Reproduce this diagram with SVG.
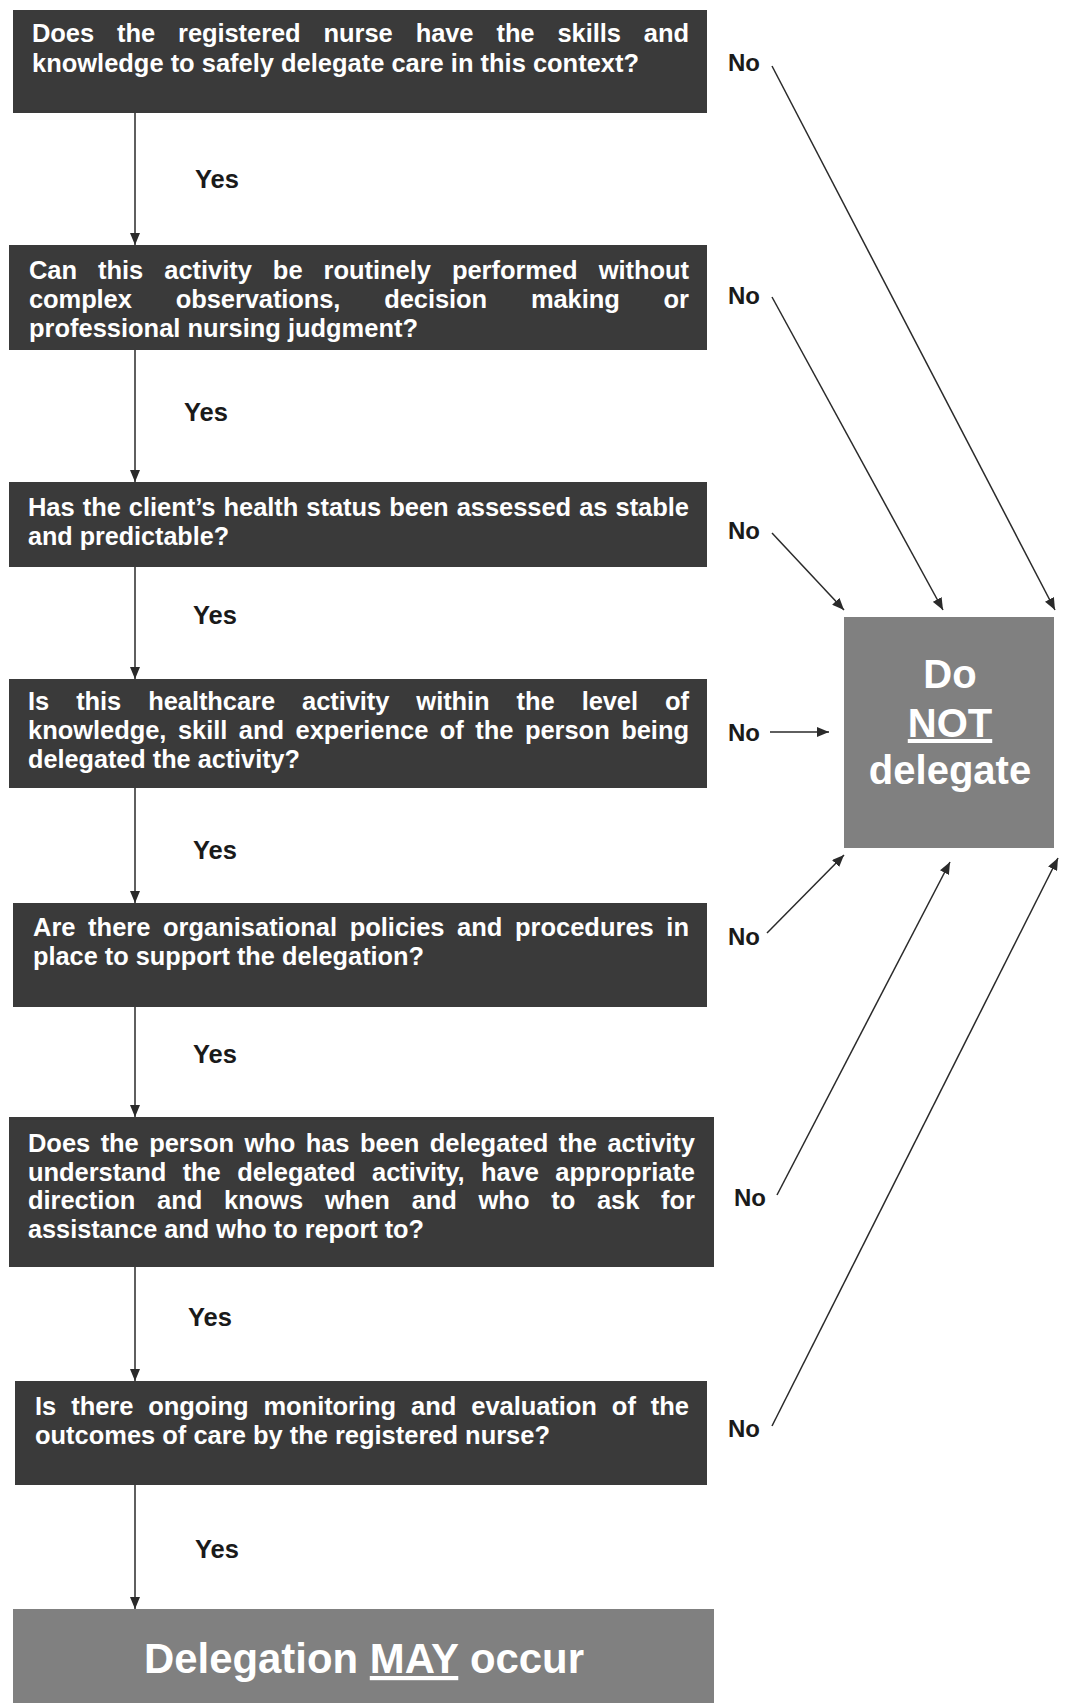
<svg xmlns="http://www.w3.org/2000/svg" width="1069" height="1703" viewBox="0 0 1069 1703">
<defs>
<style>
.q{fill:#3a3a3a}
.g{fill:#808080}
.t{font-family:"Liberation Sans Narrow","Arial Narrow","Liberation Sans",sans-serif;font-weight:bold;font-size:25.5px;fill:#ffffff}
.y{font-family:"Liberation Sans Narrow","Arial Narrow","Liberation Sans",sans-serif;font-weight:bold;font-size:25.5px;fill:#1a1a1a}
.n{font-family:"Liberation Sans",Arial,sans-serif;font-weight:bold;font-size:24px;fill:#1a1a1a}
.c{stroke:#2a2a2a;stroke-width:1.5;fill:none;marker-end:url(#ah)}
</style>
<marker id="ah" viewBox="0 0 12 10" refX="12" refY="5" markerWidth="12" markerHeight="10" markerUnits="userSpaceOnUse" orient="auto">
<path d="M0,0 L12,5 L0,10 z" fill="#2a2a2a"/>
</marker>
</defs>
<rect width="1069" height="1703" fill="#ffffff"/>
<g id="q1"><rect class="q" x="13" y="10" width="694" height="103"/>
<text class="t" x="32" y="42" word-spacing="16" textLength="657" lengthAdjust="spacing">Does the registered nurse have the skills and</text>
<text class="t" x="32" y="72" textLength="607" lengthAdjust="spacingAndGlyphs">knowledge to safely delegate care in this context?</text></g>
<g id="q2"><rect class="q" x="9" y="245" width="698" height="105"/>
<text class="t" x="29" y="279" word-spacing="14" textLength="660" lengthAdjust="spacing">Can this activity be routinely performed without</text>
<text class="t" x="29" y="308" word-spacing="37" textLength="660" lengthAdjust="spacing">complex observations, decision making or</text>
<text class="t" x="29" y="337" textLength="389" lengthAdjust="spacingAndGlyphs">professional nursing judgment?</text></g>
<g id="q3"><rect class="q" x="9" y="482" width="698" height="85"/>
<text class="t" x="28" y="516" word-spacing="1" textLength="661" lengthAdjust="spacing">Has the client’s health status been assessed as stable</text>
<text class="t" x="28" y="545" textLength="201" lengthAdjust="spacingAndGlyphs">and predictable?</text></g>
<g id="q4"><rect class="q" x="9" y="679" width="698" height="109"/>
<text class="t" x="28" y="710" word-spacing="20" textLength="661" lengthAdjust="spacing">Is this healthcare activity within the level of</text>
<text class="t" x="28" y="739" word-spacing="4.5" textLength="661" lengthAdjust="spacing">knowledge, skill and experience of the person being</text>
<text class="t" x="28" y="768" textLength="272" lengthAdjust="spacingAndGlyphs">delegated the activity?</text></g>
<g id="q5"><rect class="q" x="13" y="903" width="694" height="104"/>
<text class="t" x="33" y="936" word-spacing="5.6" textLength="656" lengthAdjust="spacing">Are there organisational policies and procedures in</text>
<text class="t" x="33" y="965" textLength="391" lengthAdjust="spacingAndGlyphs">place to support the delegation?</text></g>
<g id="q6"><rect class="q" x="9" y="1117" width="705" height="150"/>
<text class="t" x="28" y="1152" word-spacing="3.4" textLength="667" lengthAdjust="spacing">Does the person who has been delegated the activity</text>
<text class="t" x="28" y="1181" word-spacing="9.4" textLength="667" lengthAdjust="spacing">understand the delegated activity, have appropriate</text>
<text class="t" x="28" y="1209" word-spacing="14.7" textLength="667" lengthAdjust="spacing">direction and knows when and who to ask for</text>
<text class="t" x="28" y="1238" textLength="396" lengthAdjust="spacingAndGlyphs">assistance and who to report to?</text></g>
<g id="q7"><rect class="q" x="15" y="1381" width="692" height="104"/>
<text class="t" x="35" y="1415" word-spacing="8" textLength="654" lengthAdjust="spacing">Is there ongoing monitoring and evaluation of the</text>
<text class="t" x="35" y="1444" textLength="515" lengthAdjust="spacingAndGlyphs">outcomes of care by the registered nurse?</text></g>
<g id="may"><rect class="g" x="13" y="1609" width="701" height="94"/>
<text class="t" x="144" y="1673" style="font-size:42px" textLength="440" lengthAdjust="spacingAndGlyphs">Delegation <tspan text-decoration="underline">MAY</tspan> occur</text></g>
<g id="donot"><rect class="g" x="844" y="617" width="210" height="231"/>
<g font-family="Liberation Sans, Arial, sans-serif" font-weight="bold" font-size="40" fill="#ffffff" text-anchor="middle">
<text x="950" y="688">Do</text>
<text x="950" y="737" text-decoration="underline">NOT</text>
<text x="950" y="784">delegate</text></g></g>
<g id="connectors">
<line class="c" x1="135" y1="113" x2="135" y2="245"/>
<line class="c" x1="135" y1="350" x2="135" y2="482"/>
<line class="c" x1="135" y1="567" x2="135" y2="679"/>
<line class="c" x1="135" y1="788" x2="135" y2="903"/>
<line class="c" x1="135" y1="1007" x2="135" y2="1117"/>
<line class="c" x1="135" y1="1267" x2="135" y2="1381"/>
<line class="c" x1="135" y1="1485" x2="135" y2="1609"/>
<line class="c" x1="772" y1="66" x2="1055" y2="610"/>
<line class="c" x1="772" y1="297" x2="943" y2="610"/>
<line class="c" x1="772" y1="533" x2="844" y2="610"/>
<line class="c" x1="770" y1="732" x2="829" y2="732"/>
<line class="c" x1="767" y1="933" x2="844" y2="855"/>
<line class="c" x1="777" y1="1195" x2="950" y2="862"/>
<line class="c" x1="772" y1="1426" x2="1058" y2="858"/>
<text class="y" x="195" y="188">Yes</text>
<text class="y" x="184" y="421">Yes</text>
<text class="y" x="193" y="624">Yes</text>
<text class="y" x="193" y="859">Yes</text>
<text class="y" x="193" y="1063">Yes</text>
<text class="y" x="188" y="1326">Yes</text>
<text class="y" x="195" y="1558">Yes</text>
<text class="n" x="728" y="71">No</text>
<text class="n" x="728" y="304">No</text>
<text class="n" x="728" y="539">No</text>
<text class="n" x="728" y="741">No</text>
<text class="n" x="728" y="945">No</text>
<text class="n" x="734" y="1206">No</text>
<text class="n" x="728" y="1437">No</text>
</g>
</svg>
